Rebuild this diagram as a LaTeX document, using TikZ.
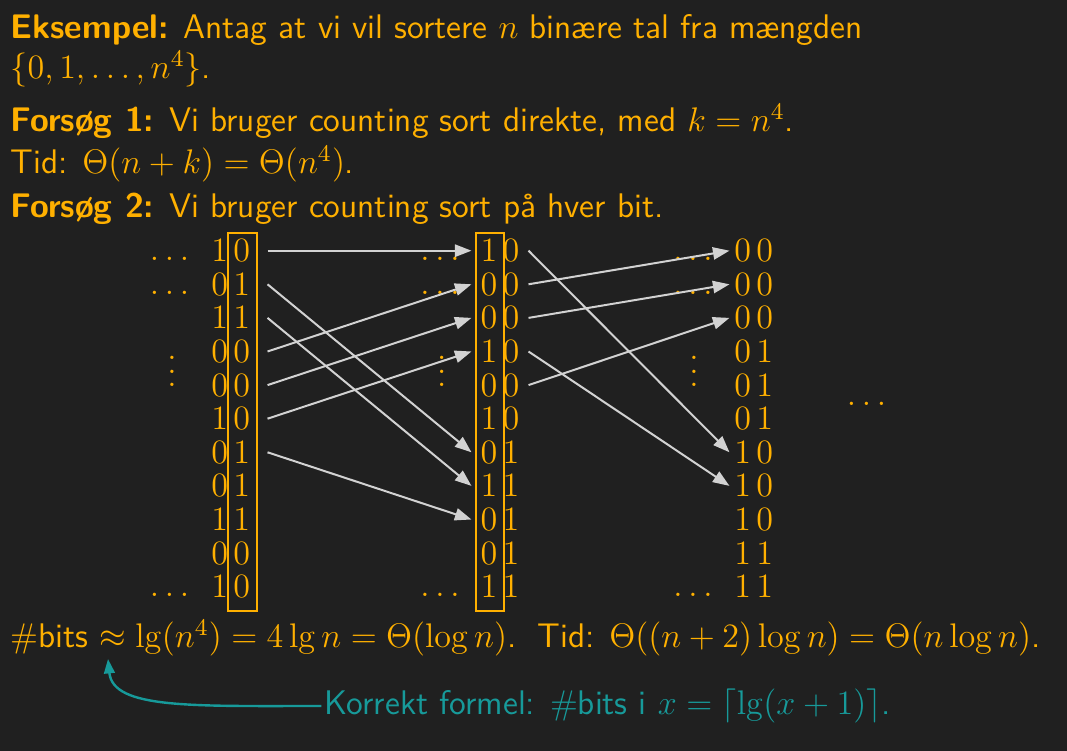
\RequirePackage{fix-cm}
\documentclass[tikz,border=0pt]{standalone}
\usetikzlibrary{arrows.meta}
\definecolor{bg}{HTML}{202020}
\definecolor{ora}{HTML}{FFB000}
\definecolor{arr}{HTML}{D2D2D2}
\definecolor{tea}{HTML}{179A9A}
\def\px{0.375pt}
\tikzset{
  txt/.style={anchor=base west, inner sep=0pt, text=ora, font=\fontsize{12.8}{15}\selectfont\sffamily},
  dig/.style={inner sep=0pt, text=ora, font=\fontsize{12.8}{15}\selectfont},
  rowa/.style={dig, minimum width=72.5*\px},
  rowb/.style={dig, minimum width=56*\px},
  rowc/.style={dig, minimum width=47.5*\px},
  colbox/.style={draw=ora, line width=2*\px},
  sortarrow/.style={draw=arr, line width=2*\px, -{Triangle[length=6.2pt,width=4.6pt]}},
  notearrow/.style={draw=tea, line width=2.4*\px, -{Triangle[length=5.4pt,width=4pt]}},
}
\begin{document}
\begin{tikzpicture}[x=0.375pt,y=-0.375pt]
\useasboundingbox (0,0) rectangle (1067,751);
\fill[bg] (0,0) rectangle (1067,751);

% heading text
\node[txt] (l1) at (10,39) {\textbf{Eksempel:} Antag at vi vil sortere $n$ bin\ae re tal fra m\ae ngden};
\node[txt] (l2) at (10,79) {$\{0,1,\ldots,n^4\}$.};
\node[txt] (l3) at (10,132) {\textbf{Forsøg 1:} Vi bruger counting sort direkte, med $k=n^4$.};
\node[txt] (l4) at (10,173.5) {Tid: $\Theta(n+k)=\Theta(n^4)$.};
\node[txt] (l5) at (10,218) {\textbf{Forsøg 2:} Vi bruger counting sort på hver bit.};

% columns
\foreach \i/\d/\e in {1/1/0,2/0/1,3/1/1,4/0/0,5/0/0,6/1/0,7/0/1,8/0/1,9/1/1,10/0/0,11/1/0}
  \node[rowa] (a\i) at (230.75,{217.1+33.6*\i}) {$\d\hspace{2.04pt}\e$};
\foreach \i/\d/\e in {1/1/0,2/0/0,3/0/0,4/1/0,5/0/0,6/1/0,7/0/1,8/1/1,9/0/1,10/0/1,11/1/1}
  \node[rowb] (b\i) at (500,{217.1+33.6*\i}) {$\d\hspace{2.04pt}\e$};
\foreach \i/\d/\e in {1/0/0,2/0/0,3/0/0,4/0/1,5/0/1,6/0/1,7/1/0,8/1/0,9/1/0,10/1/1,11/1/1}
  \node[rowc] (c\i) at (753.75,{217.1+33.6*\i}) {$\d\hspace{2.04pt}\e$};

\draw[colbox] (228,233) rectangle (257,611);
\draw[colbox] (476,233) rectangle (504,611);

% dots
\foreach \x/\n in {169.5/a,440/b,693/c}{
  \node[dig,anchor=base] (\n dt1) at (\x,261) {$\ldots$};
  \node[dig,anchor=base] (\n dt2) at (\x,294.6) {$\ldots$};
  \node[dig,anchor=base] (\n dt3) at (\x,597) {$\ldots$};
}
\foreach \x/\n in {172/a,441.7/b,694/c}
  \foreach \k/\y in {1/360,2/373.5,3/387}
    \node[dig,anchor=base] (\n vd\k) at (\x,\y) {$.$};
\node[dig,anchor=base] (rdots) at (866.5,406) {$\ldots$};

% arrows
\foreach \s/\t in {1/1,4/2,5/3,6/4,2/7,3/8,7/9}
  \draw[sortarrow] (a\s.east) -- (b\t.west);
\foreach \s/\t in {2/1,3/2,5/3,1/7,4/8}
  \draw[sortarrow] (b\s.east) -- (c\t.west);

% bottom
\node[txt] (bot) at (10,648) {\#bits $\approx \lg(n^4) = 4\lg n = \Theta(\log n)$.\hspace{0.62em}Tid: $\Theta((n+2)\log n) = \Theta(n\log n)$.};
\node[txt,text=tea] (kor) at (324,714) {Korrekt formel: \#bits i $x = \bigl\lceil\lg(x+1)\bigr\rceil$.};
\coordinate (tip) at (108,659);
\draw[notearrow] ([xshift=-1pt,yshift=3pt]kor.base west) .. controls +(-130,0) and +(5,50) .. (tip);
\end{tikzpicture}
\end{document}
